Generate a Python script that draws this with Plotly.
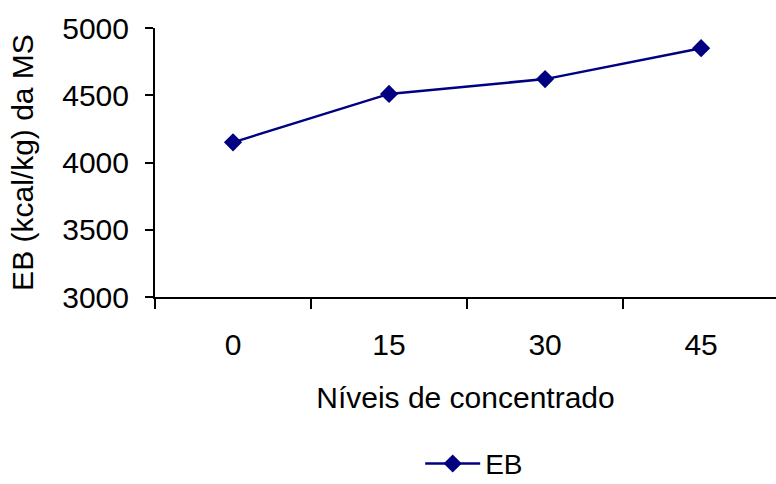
import plotly.graph_objects as go

categories = ["0", "15", "30", "45"]
eb_values = [4150, 4510, 4620, 4850]
y_ticks = [3000, 3500, 4000, 4500, 5000]

FONT = "Liberation Sans, Arial, sans-serif"
NAVY = "#000080"

fig = go.Figure()
fig.add_trace(go.Scatter(
    x=categories, y=eb_values, name="EB", mode="lines+markers",
    line=dict(color=NAVY, width=2.5),
    marker=dict(symbol="diamond", size=14, color=NAVY),
))

fig.update_layout(
    width=776, height=484,
    margin=dict(l=155, r=0, t=28, b=187, autoexpand=False),
    paper_bgcolor="white", plot_bgcolor="white",
    font=dict(family=FONT, size=30, color="black"),
    showlegend=True,
    legend=dict(orientation="h", x=0.514, y=-0.62, xanchor="center", yanchor="middle",
                font=dict(size=28), itemwidth=55),
    xaxis=dict(
        type="category", range=[-0.5, 3.48], tickson="boundaries", automargin=False,
        showline=True, linecolor="black", linewidth=2,
        ticks="outside", ticklen=10, tickwidth=2, tickcolor="black",
        showgrid=False, zeroline=False, ticklabelstandoff=20,
        title=dict(text="Níveis de concentrado", standoff=27, font=dict(size=30)),
    ),
    yaxis=dict(
        range=[3000, 5000], tickvals=y_ticks, automargin=False,
        showline=True, linecolor="black", linewidth=2,
        ticks="outside", ticklen=8, tickwidth=2, tickcolor="black",
        showgrid=False, zeroline=False, ticklabelstandoff=10,
        title=dict(text="EB (kcal/kg) da MS", standoff=20, font=dict(size=30)),
    ),
)

fig.write_html("out.html")
